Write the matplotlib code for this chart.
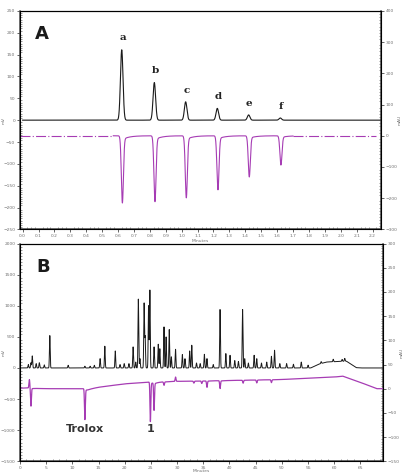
import numpy as np
import matplotlib
matplotlib.use('Agg')
import matplotlib.pyplot as plt
from matplotlib.ticker import MultipleLocator, AutoMinorLocator

INK = '#1a1a1a'
MAGENTA = '#a63cb4'
FRAME = '#4a4a4a'
TICKTXT = '#707070'

# ---- Panel A: standard injections a-f (minutes, mV / mAU) -------------
A_LABELS = ['a', 'b', 'c', 'd', 'e', 'f']
A_TIMES = [0.623, 0.828, 1.025, 1.224, 1.421, 1.620]
A_UV = [161, 86, 42, 27, 12, 5]                    # black trace, left axis
A_ABTS = [-209, -205, -193, -168, -128, -91]       # magenta trace, right axis

# ---- Panel B: sample chromatogram --------------------------------------
# black trace peaks (retention time, height in mV)
B_UV_T = [1.6, 2.1, 2.35, 3.1, 3.7, 4.65, 5.7, 9.2, 12.4, 13.4, 14.2,
          15.3, 16.2, 18.2, 19.1, 19.9, 20.8, 21.6, 22.1, 22.6, 22.9,
          23.7, 23.9, 24.55, 24.8, 25.6, 26.4, 26.7, 27.5, 27.9, 28.5,
          28.9, 29.7, 31.0, 31.5, 32.4, 32.8, 33.7, 34.4, 35.2, 35.7,
          36.9, 38.2, 39.3, 40.1, 41.0, 41.7, 42.5, 42.9, 43.6, 44.7,
          45.2, 46.1, 47.1, 48.0, 48.6, 49.6, 50.9, 52.2, 53.7, 55.0,
          57.5, 59.8, 61.5, 62.0]
B_UV_H = [55, 85, 194, 70, 85, 50, 521, 43, 28, 28, 43,
          150, 350, 274, 55, 70, 70, 339, 95, 1108, 150,
          1038, 500, 1000, 1253, 339, 382, 310, 661, 500, 618,
          180, 301, 215, 150, 274, 366, 80, 70, 220, 150,
          55, 941, 231, 204, 120, 105, 941, 150, 80, 204,
          150, 80, 95, 188, 285, 70, 70, 60, 95, 45,
          30, 40, 30, 45]
# slow hump of the black baseline near the end of the gradient
B_UV_BASE_T = [0.0, 55.5, 57.0, 58.5, 62.3, 63.2, 64.2, 65.0, 69.3]
B_UV_BASE_V = [0, 0, 60, 95, 110, 60, 5, 0, 0]

# magenta trace: baseline knots (mAU) and negative peaks (relative depth)
B_ABTS_BASE_T = [0.0, 1.5, 5.0, 12.0, 13.0, 15.0, 20.0, 25.0, 30.0, 40.0,
                 50.0, 60.0, 61.6, 65.0, 68.1, 69.3]
B_ABTS_BASE_V = [1, 1.5, 0, 0, -1, 3, 10, 14, 15, 17, 19, 24, 26, 13, 0, 0]
B_ABTS_T = [1.8, 2.1, 12.4, 24.9, 25.6, 27.5, 29.7, 33.2, 34.7, 35.7,
            38.2, 42.6, 45.2, 48.0]
B_ABTS_H = [17, -37, -62, -80, -56, -7, 9, -4, -5, -13, -16, -6, -6, -6]
B_LABELS = ['Trolox', '1']
B_LABEL_T = [12.4, 24.9]


def gauss(t, t0, h, s):
    return h * np.exp(-0.5 * ((t - t0) / s) ** 2)


def tailed(t, t0, h, s, tail, tau):
    # sharp peak with an exponential tail to the right
    on = 1.0 / (1.0 + np.exp(-(t - t0) / (s * 0.6)))
    return gauss(t, t0, h, s) + h * tail * on * np.exp(-np.clip(t - t0, 0, None) / tau)


def style_axes(ax, twin, xlab_y):
    for side in ['left', 'right', 'bottom']:
        ax.spines[side].set_color(FRAME)
        ax.spines[side].set_linewidth(1.1)
    ax.spines['top'].set_color('#8a8a8a')
    ax.spines['top'].set_linewidth(0.9)
    for a in (ax, twin):
        a.tick_params(which='major', length=2.2, width=0.6, color=FRAME,
                      labelsize=3.2, labelcolor=TICKTXT, pad=1.2)
        a.tick_params(which='minor', length=1.2, width=0.4, color=FRAME,
                      direction='in')
    ax.xaxis.set_minor_locator(AutoMinorLocator(4))
    ax.yaxis.set_minor_locator(AutoMinorLocator(10))
    twin.yaxis.set_minor_locator(AutoMinorLocator(10))
    ax.xaxis.set_label_coords(0.5, xlab_y)
    ax.yaxis.set_label_coords(-0.04, 0.5)
    twin.yaxis.set_label_coords(1.045, 0.5)


fig = plt.figure(figsize=(4.07, 4.74), dpi=100)

# ============================ Panel A ===================================
axA = fig.add_axes([0.049, 0.516, 0.887, 0.461])
axA2 = axA.twinx()

ta = np.linspace(0.0, 2.25, 6000)
uv = np.zeros_like(ta)
for t0, h in zip(A_TIMES, A_UV):
    uv += gauss(ta, t0, h, 0.008)
axA.plot(ta, uv, color=INK, lw=0.8, zorder=3)

tm = np.linspace(0.57, 1.70, 6000)
abts = np.zeros_like(tm)
for t0, h in zip(A_TIMES, A_ABTS):
    abts += tailed(tm, t0 + 0.004, h, 0.0065, 0.06, 0.04)
axA2.plot(tm, abts, color=MAGENTA, lw=0.8)
# broken baseline at both ends of the magenta trace
axA2.plot([-0.017, 0.57], [0, 0], color=MAGENTA, lw=0.8, dashes=(9, 2, 1, 2))
axA2.plot([1.70, 2.22], [0, 0], color=MAGENTA, lw=0.8, dashes=(9, 2, 1, 2))

for lab, t0, h in zip(A_LABELS, A_TIMES, A_UV):
    axA.text(t0 + 0.005, h + 27, lab, ha='center', va='center',
             fontsize=7.5, fontweight='bold', family='DejaVu Serif',
             color='#222222')
axA.text(0.042, 0.893, 'A', transform=axA.transAxes, fontsize=13,
         fontweight='bold', ha='left', va='center', color=INK)

axA.set_xlim(-0.017, 2.253)
axA.set_ylim(-250, 250)
axA2.set_ylim(-300, 400)
axA.xaxis.set_major_locator(MultipleLocator(0.1))
axA.xaxis.set_major_formatter(plt.FuncFormatter(lambda v, p: f'{v:.1f}'))
axA.yaxis.set_major_locator(MultipleLocator(50))
axA2.yaxis.set_major_locator(MultipleLocator(100))
axA.set_xlabel('Minutes', fontsize=3.2, color=TICKTXT)
axA.set_ylabel('mV', fontsize=3.2, color=TICKTXT)
axA2.set_ylabel('mAU', fontsize=3.2, color=TICKTXT)
style_axes(axA, axA2, -0.045)

# ============================ Panel B ===================================
axB = fig.add_axes([0.049, 0.027, 0.892, 0.459])
axB2 = axB.twinx()

tb = np.linspace(0.0, 69.3, 14000)
uvb = np.interp(tb, B_UV_BASE_T, B_UV_BASE_V)
for t0, h in zip(B_UV_T, B_UV_H):
    uvb += gauss(tb, t0, h, 0.07)
axB.plot(tb, uvb, color=INK, lw=0.7, zorder=3)

abb = np.interp(tb, B_ABTS_BASE_T, B_ABTS_BASE_V)
for t0, h in zip(B_ABTS_T, B_ABTS_H):
    abb += tailed(tb, t0, h, 0.08, 0.05, 0.8)
axB2.plot(tb, abb, color=MAGENTA, lw=0.9)

for lab, t0 in zip(B_LABELS, B_LABEL_T):
    axB2.text(t0, -84, lab, ha='center', va='center', fontsize=8,
              color='#333333', fontweight='semibold')
axB.text(0.063, 0.892, 'B', transform=axB.transAxes, fontsize=13,
         fontweight='bold', ha='center', va='center', color=INK)

axB.set_xlim(0, 69.3)
axB.set_ylim(-1500, 2000)
axB2.set_ylim(-150, 300)
axB.xaxis.set_major_locator(MultipleLocator(5))
axB.yaxis.set_major_locator(MultipleLocator(500))
axB2.yaxis.set_major_locator(MultipleLocator(50))
axB.set_xlabel('Minutes', fontsize=3.2, color=TICKTXT)
axB.set_ylabel('mV', fontsize=3.2, color=TICKTXT)
axB2.set_ylabel('mAU', fontsize=3.2, color=TICKTXT)
style_axes(axB, axB2, -0.036)

fig.savefig('out.png', dpi=100)
